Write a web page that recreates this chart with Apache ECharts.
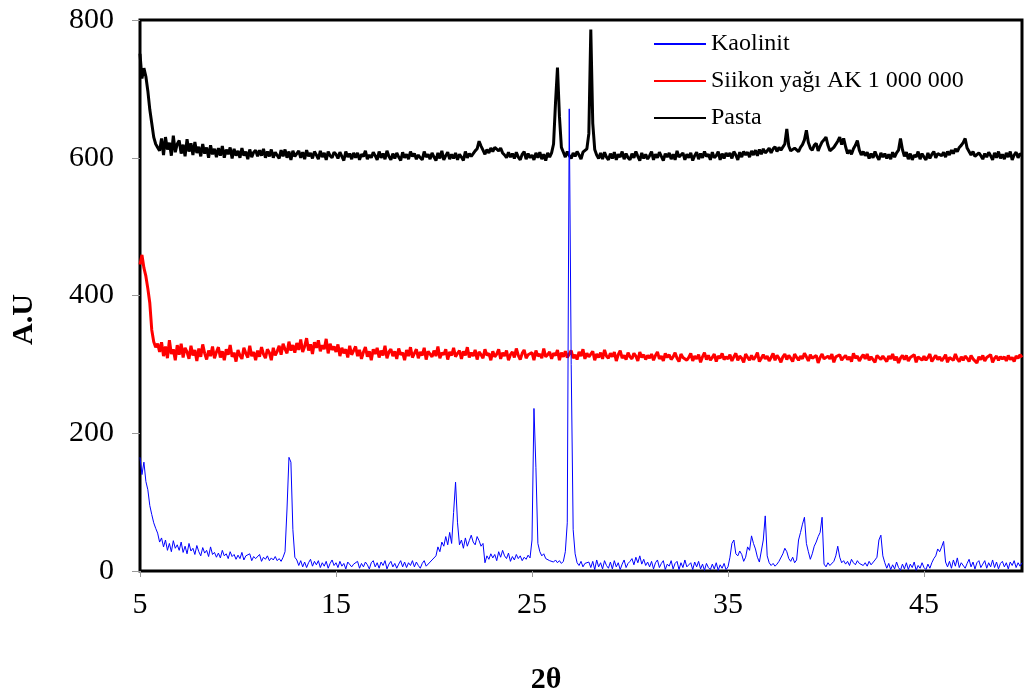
<!DOCTYPE html>
<html>
<head>
<meta charset="utf-8">
<script src="https://cdn.jsdelivr.net/npm/echarts@6/dist/echarts.min.js"></script>
<style>html,body{margin:0;padding:0;background:#fff;}#chart{width:1025px;height:700px;}</style>
</head>
<body>
<div id="chart"></div>
<script>
// 2θ sampling grid: 5.0 .. 50.0 step 0.1
const angleStart = 5.0, angleStep = 0.1, angleCount = 451;
const xTicks = [5, 15, 25, 35, 45];
const yTicks = [0, 200, 400, 600, 800];
const seriesNames = ['Kaolinit', 'Siikon yağı AK 1 000 000', 'Pasta'];

const kaolinit = [
165,140,158,130,118,95,82,70,62,55,
42,48,35,45,30,40,28,44,33,38,
30,42,27,36,25,40,29,33,24,37,
28,22,34,26,30,21,35,24,27,20,
26,19,30,22,25,18,28,21,24,17,
23,18,27,16,22,20,25,15,21,18,
19,24,14,20,17,22,15,19,16,21,
15,18,14,20,28,90,165,158,60,20,
16,8,15,6,13,5,12,17,7,14,
9,15,5,12,7,14,4,11,16,8,
12,5,14,7,11,3,13,15,6,10,
8,14,4,11,6,13,9,3,12,15,
6,12,4,13,8,15,3,10,14,6,
11,4,10,15,6,13,5,12,8,15,
6,13,8,4,11,15,7,9,13,16,
14,22,35,28,42,36,50,38,56,40,
85,129,70,38,45,33,48,36,44,52,
42,38,50,44,36,40,12,22,17,25,
19,24,15,28,20,30,22,18,26,14,
21,16,24,18,22,15,20,17,23,19,
45,236,150,40,28,22,25,18,20,15,
17,13,16,12,15,11,14,28,70,671,
300,60,25,12,8,14,6,11,9,13,
5,14,2,16,6,12,3,15,8,4,
13,3,15,6,12,2,10,16,5,11,
14,18,9,20,12,22,10,17,8,13,
6,14,3,12,16,5,11,15,2,10,
7,15,3,11,14,2,12,5,16,6,
4,12,2,13,6,14,3,10,1,11,
5,2,10,3,12,1,9,4,11,2,
6,20,40,45,25,22,29,24,14,20,
35,30,51,40,32,20,13,15,45,80,
22,12,8,11,7,10,14,12,25,33,
28,18,14,20,12,16,45,56,68,78,
40,28,17,25,36,42,50,56,78,10,
6,12,8,10,14,22,36,20,12,15,
10,14,8,17,12,9,15,11,13,8,
12,7,14,9,11,16,20,45,52,22,
12,4,11,2,9,3,13,5,1,10,
3,12,2,10,5,13,1,8,4,12,
5,2,10,4,12,18,22,32,28,35,
43,13,6,14,4,16,7,19,5,12,
14,4,11,17,6,13,3,12,15,5,
10,15,4,12,6,16,5,13,3,11,
14,6,12,3,13,8,15,5,12,7,
12
];

const silikon = [
445,459,440,428,410,389,350,333,325,330,
318,332,312,326,309,335,315,322,306,328,
314,330,310,324,318,308,327,313,321,305,
323,311,329,316,307,320,312,326,309,318,
325,310,319,306,322,314,328,311,317,304,
321,313,308,324,316,310,327,312,318,306,
320,311,325,315,309,322,317,306,324,313,
319,327,314,330,322,316,333,320,328,317,
331,321,336,318,326,338,320,329,315,332,
324,335,319,328,322,337,316,330,321,326,
318,329,312,324,316,322,310,327,314,320,
326,312,321,308,318,325,311,319,306,322,
315,324,310,320,313,327,309,318,322,312,
319,308,323,314,317,306,321,312,325,310,
316,322,309,318,313,324,307,319,315,311,
320,312,326,309,317,314,322,307,318,313,
324,311,316,320,308,319,313,325,310,317,
312,321,307,318,314,309,322,313,316,306,
319,311,315,322,308,317,312,320,306,314,
318,310,323,313,307,316,321,309,314,312,
317,306,320,312,315,309,323,311,314,318,
308,316,313,321,306,317,311,319,310,315,
320,309,314,307,318,312,322,308,316,311,
313,319,306,315,310,317,308,321,312,309,
316,311,318,305,314,320,309,313,307,317,
311,308,316,312,305,318,310,314,307,313,
309,315,306,313,318,308,312,305,316,310,
314,307,311,317,309,304,315,310,312,306,
310,316,305,312,308,314,303,311,317,307,
313,306,310,315,304,312,309,316,307,311,
308,314,305,311,316,306,312,309,303,315,
310,306,313,307,311,317,304,309,314,308,
312,305,310,316,306,313,309,303,311,315,
307,313,309,304,315,310,306,312,308,316,
311,305,314,309,307,313,302,310,315,308,
306,312,308,315,303,311,309,314,306,310,
313,307,311,304,316,309,312,305,310,314,
308,315,306,311,309,303,313,310,307,312,
310,304,312,308,315,306,311,302,309,313,
307,313,305,310,308,314,303,311,309,306,
312,306,310,315,304,309,313,307,311,305,
309,314,303,310,312,306,315,308,304,311,
306,312,309,304,313,308,310,302,311,307,
313,305,310,308,314,303,309,312,306,311,
308,311,305,313,307,310,304,312,309,314,
310
];

const pasta = [
751,715,730,718,697,670,650,630,620,615,
610,628,604,630,612,622,603,632,608,620,
625,606,619,602,627,609,621,604,623,607,
616,602,620,606,615,600,618,605,613,601,
614,603,617,600,612,605,615,599,613,603,
610,600,614,603,609,598,612,601,608,611,
602,611,603,613,600,609,602,612,600,608,
607,599,611,602,612,600,609,597,610,602,
603,610,600,608,598,611,602,607,599,609,
604,598,610,601,607,597,609,603,600,608,
605,599,608,602,596,609,601,606,598,607,
600,607,597,605,602,610,598,604,600,608,
603,597,609,600,606,598,610,602,597,606,
599,607,601,596,608,600,605,598,609,602,
606,598,604,600,597,609,601,605,598,607,
601,596,607,599,610,597,603,608,598,605,
599,607,597,605,601,596,609,600,606,602,
604,610,613,624,617,611,605,612,607,614,
609,615,617,610,614,607,604,600,608,601,
606,599,608,601,597,605,609,598,606,600,
604,597,607,600,608,598,605,596,607,601,
607,620,680,731,660,615,608,601,609,603,
599,607,602,609,604,598,608,610,613,635,
786,650,612,604,599,607,598,608,601,597,
606,599,608,597,605,601,609,598,606,600,
597,606,600,609,602,596,607,599,605,598,
603,609,597,605,600,608,602,596,606,601,
607,598,605,597,610,601,599,607,597,605,
600,607,596,603,608,598,606,600,609,602,
605,597,608,600,603,609,597,606,599,607,
602,607,599,609,604,597,608,601,609,604,
608,601,610,604,611,603,612,605,613,607,
610,614,607,613,616,609,615,611,613,620,
642,617,610,608,614,612,609,615,619,626,
640,622,614,611,618,621,610,617,623,626,
630,618,610,608,615,616,624,630,619,628,
616,606,611,605,613,618,625,611,604,609,
603,608,599,606,600,609,602,597,607,601,
606,599,605,598,608,601,607,611,628,612,
602,608,598,606,597,604,601,609,598,606,
601,597,607,599,605,609,600,606,608,603,
608,601,609,604,611,606,613,609,615,618,
622,628,614,609,604,609,602,600,607,603,
598,606,601,608,603,597,607,600,609,599,
605,598,607,601,609,597,604,608,600,606,
603
];

const angles = [];
for (let i = 0; i < angleCount; i++) angles.push(Math.round((angleStart + i * angleStep) * 10) / 10);
const pairs = (vals) => vals.map((v, i) => [angles[i], v]);

const serif = "'Liberation Serif', 'Times New Roman', serif";
const chart = echarts.init(document.getElementById('chart'), null, {renderer: 'canvas'});
chart.setOption({
  animation: false,
  backgroundColor: '#fff',
  grid: {left: 140, right: 3, top: 20, bottom: 128, show: true, borderColor: '#000', borderWidth: 3, backgroundColor: 'transparent'},
  legend: {
    orient: 'vertical', left: 653, top: 32, padding: 0, itemWidth: 52, itemHeight: 4, itemGap: 13,
    data: seriesNames,
    itemStyle: {opacity: 0},
    textStyle: {fontFamily: serif, fontSize: 24, color: '#000'}
  },
  xAxis: {
    type: 'value', min: 5, max: 50,
    name: '2θ', nameLocation: 'middle', nameGap: 94,
    nameTextStyle: {fontFamily: serif, fontSize: 30, fontWeight: 'bold', color: '#000', padding: [0, 70, 0, 0]},
    axisLine: {show: false},
    axisTick: {show: true, customValues: xTicks, length: 6, lineStyle: {color: '#999'}},
    axisLabel: {customValues: xTicks, margin: 19, fontFamily: serif, fontSize: 30, color: '#000'},
    splitLine: {show: false}
  },
  yAxis: {
    type: 'value', min: 0, max: 800,
    name: 'A.U', nameLocation: 'middle', nameGap: 101,
    nameTextStyle: {fontFamily: serif, fontSize: 30, fontWeight: 'bold', color: '#000', padding: [0, 48, 0, 0]},
    axisLine: {show: false},
    axisTick: {show: true, customValues: yTicks, length: 8, lineStyle: {color: '#999'}},
    axisLabel: {customValues: yTicks, margin: 26, fontFamily: serif, fontSize: 30, color: '#000'},
    splitLine: {show: false}
  },
  series: [
    {name: seriesNames[2], type: 'line', data: pairs(pasta), showSymbol: false, symbol: 'none', color: '#000000', lineStyle: {width: 3, color: '#000000'}},
    {name: seriesNames[1], type: 'line', data: pairs(silikon), showSymbol: false, symbol: 'none', color: '#ff0000', lineStyle: {width: 3, color: '#ff0000'}},
    {name: seriesNames[0], type: 'line', data: pairs(kaolinit), showSymbol: false, symbol: 'none', color: '#0000ff', lineStyle: {width: 1, color: '#0000ff'}}
  ]
});
</script>
</body>
</html>
